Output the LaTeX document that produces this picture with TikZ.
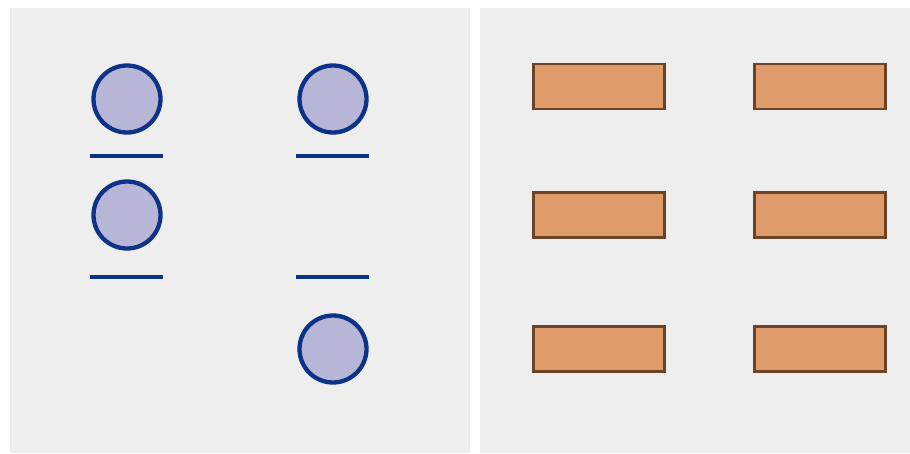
\documentclass[tikz,border=0pt]{standalone}
\definecolor{panelbg}{HTML}{EEEEEE}
\definecolor{circfill}{HTML}{B8B6D6}
\definecolor{navy}{HTML}{0D3388}
\definecolor{boxfill}{HTML}{DF9B69}
\definecolor{boxline}{HTML}{6B4425}
\begin{document}
\begin{tikzpicture}[x=1pt,y=-1pt,
  panel/.style={fill=panelbg,draw=none},
  ball/.style={circle,draw=navy,fill=circfill,line width=4.3pt,minimum size=67pt,inner sep=0pt},
  bar/.style={draw=navy,line width=4pt},
  brick/.style={rectangle,draw=boxline,fill=boxfill,line width=2.4pt,minimum width=131pt,minimum height=45pt,inner sep=0pt}]
\useasboundingbox (0,0) rectangle (910,453);
\fill[white] (0,0) rectangle (910,453);
\path[panel] (10,8) rectangle (470,453);
\path[panel] (480,8) rectangle (910,453);
% left panel
\node[ball] (c1) at (127,99) {};
\node[ball] (c2) at (127,215) {};
\node[ball] (c3) at (333,99) {};
\node[ball] (c4) at (333,349) {};
\coordinate (l1a) at (90,156); \coordinate (l1b) at (163,156);
\coordinate (l2a) at (296,156); \coordinate (l2b) at (369,156);
\coordinate (l3a) at (90,276.5); \coordinate (l3b) at (163,276.5);
\coordinate (l4a) at (296,276.5); \coordinate (l4b) at (369,276.5);
\draw[bar] (l1a) -- (l1b);
\draw[bar] (l2a) -- (l2b);
\draw[bar] (l3a) -- (l3b);
\draw[bar] (l4a) -- (l4b);
% right panel
\node[brick] (r1) at (599,86.5) {};
\node[brick] (r2) at (820,86.5) {};
\node[brick] (r3) at (599,215) {};
\node[brick] (r4) at (820,215) {};
\node[brick] (r5) at (599,349) {};
\node[brick] (r6) at (820,349) {};
\end{tikzpicture}
\end{document}
